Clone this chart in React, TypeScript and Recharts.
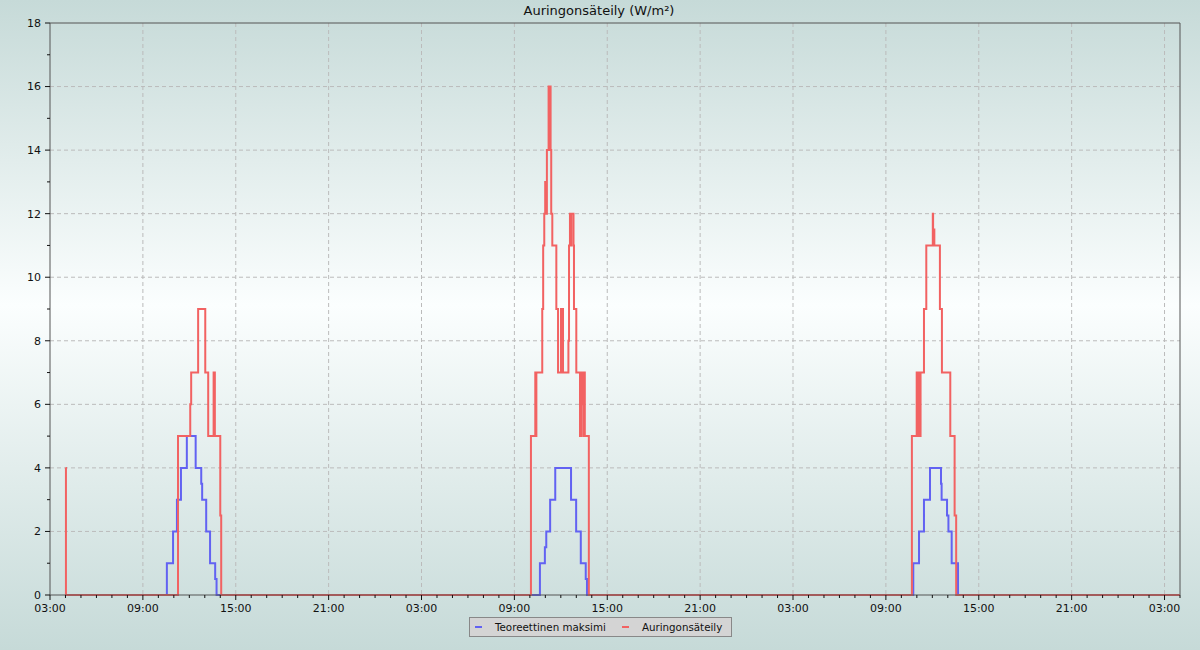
import { LineChart, Line, XAxis, YAxis, CartesianGrid, ReferenceLine } from 'recharts'

// time = hours after 03:00 on the first day, value = W/m²
const spanHours = 73
const majorHours = [0, 6, 12, 18, 24, 30, 36, 42, 48, 54, 60, 66, 72]
const xTickLabels = ['03:00', '09:00', '15:00', '21:00', '03:00', '09:00', '15:00', '21:00', '03:00', '09:00', '15:00', '21:00', '03:00']
const yTicks = [0, 1, 2, 3, 4, 5, 6, 7, 8, 9, 10, 11, 12, 13, 14, 15, 16, 17, 18]

const maxDay1: [number, number][] = [
  [1.0, 0], [7.55, 1], [7.95, 2], [8.2, 3], [8.46, 4], [8.84, 5], [9.41, 4], [9.77, 3.5],
  [9.83, 3], [10.09, 2], [10.34, 1], [10.67, 0.5], [10.76, 0],
]
const maxDay2: [number, number][] = [
  [31.65, 1], [31.97, 1.5], [32.06, 2], [32.31, 3], [32.64, 4], [33.66, 3], [33.99, 2],
  [34.29, 1], [34.61, 0.5], [34.69, 0],
]
const maxDay3: [number, number][] = [
  [55.77, 1], [56.14, 2], [56.46, 3], [56.85, 4], [57.56, 3.5], [57.6, 3], [57.95, 2.5],
  [58.04, 2], [58.25, 1], [58.66, 0], [73, 0],
]

const sunDay1: [number, number][] = [
  [1.0, 4], [1.03, 0], [8.27, 5], [9.06, 6], [9.12, 7], [9.57, 9], [10.03, 7], [10.22, 5],
  [10.57, 7], [10.65, 5], [11.0, 2.5], [11.06, 0],
]
const sunDay2: [number, number][] = [
  [31.07, 5], [31.35, 7], [31.39, 5], [31.42, 7], [31.8, 9], [31.86, 11], [31.93, 12],
  [31.99, 13], [32.06, 12], [32.1, 14], [32.21, 16], [32.26, 15], [32.28, 16], [32.34, 14],
  [32.38, 12], [32.45, 11], [32.71, 9], [32.82, 7], [33.01, 9], [33.14, 7], [33.49, 8],
  [33.53, 11], [33.59, 12], [33.65, 11], [33.68, 12], [33.82, 11], [33.85, 9], [34.0, 7],
  [34.24, 5], [34.27, 7], [34.31, 5], [34.33, 6], [34.44, 7], [34.47, 5], [34.5, 7],
  [34.55, 5], [34.81, 0],
]
const sunDay3: [number, number][] = [
  [55.68, 5], [55.99, 7], [56.03, 5], [56.07, 7], [56.11, 5], [56.16, 7], [56.2, 5],
  [56.24, 7], [56.46, 9], [56.61, 11], [57.03, 12], [57.05, 11], [57.08, 11.5], [57.13, 11],
  [57.49, 9], [57.62, 7], [58.16, 5], [58.44, 2.5], [58.54, 0], [73, 0],
]

const toRows = (pts: [number, number][]) => pts.map(([t, v]) => ({ t, v }))
const maxData = toRows([...maxDay1, ...maxDay2, ...maxDay3])
const sunData = toRows([...sunDay1, ...sunDay2, ...sunDay3])

const xTicks = Array.from({ length: spanHours + 1 }, (_, i) => i)
const font = '"DejaVu Sans", sans-serif'

const XTick = ({ x, y, payload }: any) => {
  const idx = majorHours.indexOf(payload.value)
  const major = idx >= 0
  return (
    <g>
      <line x1={x} x2={x} y1={y} y2={y + (major ? 5 : 3)} stroke="#111" />
      {major && (
        <text x={x} y={y + 17} textAnchor="middle" fontSize={11} fill="#111" fontFamily={font}>
          {xTickLabels[idx]}
        </text>
      )}
    </g>
  )
}

const YTick = ({ x, y, payload }: any) => {
  const major = payload.value % 2 === 0
  return (
    <g>
      <line x1={x} x2={x - (major ? 5 : 3)} y1={y} y2={y} stroke="#111" />
      {major && (
        <text x={x - 9} y={y} dy="0.35em" textAnchor="end" fontSize={11} fill="#111" fontFamily={font}>
          {payload.value}
        </text>
      )}
    </g>
  )
}

export default function App() {
  return (
    <div
      style={{
        position: 'absolute', left: 0, top: 0, width: 1200, height: 650,
        background: 'linear-gradient(to bottom, #c6dad8 0%, #fbfefe 47%, #c6dad8 100%)',
        fontFamily: font,
      }}
    >
      <div style={{ position: 'absolute', top: 3, left: 0, width: 1198, textAlign: 'center', fontSize: 13, color: '#111' }}>
        Auringonsäteily (W/m²)
      </div>
      <LineChart width={1200} height={650} data={sunData} margin={{ top: 23, right: 20, bottom: 25, left: 0 }}>
        <CartesianGrid
          stroke="#bbbbbb"
          strokeDasharray="4 3"
          verticalValues={majorHours.slice(1)}
          horizontalValues={[2, 4, 6, 8, 10, 12, 14, 16]}
        />
        <XAxis
          type="number" dataKey="t" domain={[0, spanHours]} ticks={xTicks} interval={0}
          height={30} tickSize={0} tickMargin={0} tickLine={false} tick={<XTick />}
          axisLine={{ stroke: '#555' }} allowDataOverflow
        />
        <YAxis
          type="number" domain={[0, 18]} ticks={yTicks} interval={0} width={50}
          tickSize={0} tickMargin={0} tickLine={false} tick={<YTick />} axisLine={{ stroke: '#555' }}
        />
        <ReferenceLine y={18} stroke="#555" />
        <ReferenceLine x={spanHours} stroke="#555" />
        <Line data={maxData} dataKey="v" type="stepAfter" stroke="#6262f2" strokeWidth={2} dot={false} isAnimationActive={false} />
        <Line data={sunData} dataKey="v" type="stepAfter" stroke="#f26262" strokeWidth={2} dot={false} isAnimationActive={false} />
      </LineChart>
      <div
        style={{
          position: 'absolute', left: 469, top: 617, width: 263, height: 20,
          background: '#d4d4d4', border: '1px solid #888', boxSizing: 'border-box',
          display: 'flex', alignItems: 'center', fontSize: 10.3, color: '#111', whiteSpace: 'nowrap',
        }}
      >
        <span style={{ flexShrink: 0, display: 'inline-block', width: 7, height: 2, background: '#6262f2', marginLeft: 5, marginRight: 13 }} />
        <span style={{ flexShrink: 0 }}>Teoreettinen maksimi</span>
        <span style={{ flexShrink: 0, display: 'inline-block', width: 7, height: 2, background: '#f26262', marginLeft: 16, marginRight: 13 }} />
        <span style={{ flexShrink: 0 }}>Auringonsäteily</span>
      </div>
    </div>
  )
}
